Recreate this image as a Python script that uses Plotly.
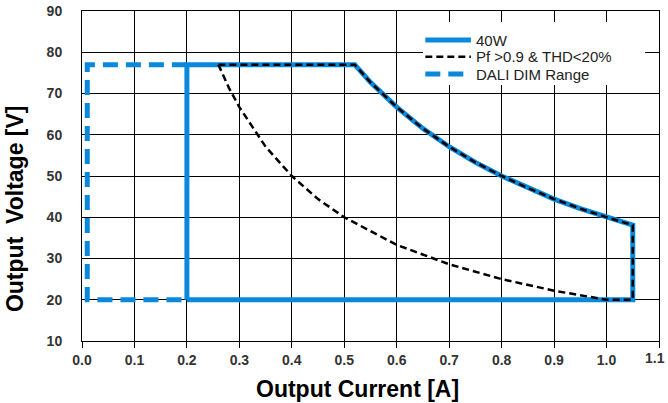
import plotly.graph_objects as go

# 40W operating area (closed outline)
w40_x = [0.20, 0.20, 0.52, 0.55, 0.60, 0.65, 0.70, 0.75, 0.80, 0.85, 0.90, 0.95, 1.00, 1.05, 1.05, 0.20]
w40_y = [20.0, 77.0, 77.0, 72.7, 66.7, 61.5, 57.1, 53.3, 50.0, 47.1, 44.4, 42.1, 40.0, 38.1, 20.0, 20.0]

# Pf > 0.9 & THD < 20% region (closed outline)
pf_x = [0.26, 0.52, 0.55, 0.60, 0.65, 0.70, 0.75, 0.80, 0.85, 0.90, 0.95, 1.00, 1.05, 1.05, 1.00,
        0.90, 0.80, 0.70, 0.60, 0.50, 0.45, 0.40, 0.35, 0.30, 0.28, 0.26]
pf_y = [77.0, 77.0, 72.7, 66.7, 61.5, 57.1, 53.3, 50.0, 47.1, 44.4, 42.1, 40.0, 38.1, 20.0, 20.0,
        22.2, 25.0, 28.6, 33.3, 40.0, 44.4, 50.0, 57.1, 66.7, 71.4, 77.0]

# DALI DIM range
dali_x = [0.20, 0.01, 0.01, 0.20]
dali_y = [77.0, 77.0, 20.0, 20.0]

series_names = ["40W", "Pf >0.9 & THD<20%", "DALI DIM Range"]

x_ticks = [0.0, 0.1, 0.2, 0.3, 0.4, 0.5, 0.6, 0.7, 0.8, 0.9, 1.0, 1.1]
x_tick_labels = ["0.0", "0.1", "0.2", "0.3", "0.4", "0.5", "0.6", "0.7", "0.8", "0.9", "1.0", "1.1"]
y_ticks = [10, 20, 30, 40, 50, 60, 70, 80, 90]

x_title = "Output Current [A]"
y_title = "Output\u00a0\u00a0Voltage [V]"

BLUE = "#0A88DB"
styles = [
    dict(color=BLUE, width=5),
    dict(color="black", width=2.5, dash="7px,4px"),
    dict(color=BLUE, width=5, dash="15px,8px"),
]

fig = go.Figure()
for xs, ys, nm, st in zip([w40_x, pf_x, dali_x], [w40_y, pf_y, dali_y], series_names, styles):
    fig.add_trace(go.Scatter(x=xs, y=ys, mode="lines", name=nm, line=st, showlegend=False))

# Manual legend (paper coordinates)
fig.add_shape(type="rect", xref="paper", yref="paper", x0=0.591, x1=0.976, y0=0.776, y1=0.967,
              fillcolor="white", line=dict(width=0), layer="above")
row_y = [0.912, 0.861, 0.809]
for nm, st, ry in zip(series_names, styles, row_y):
    fig.add_shape(type="line", xref="paper", yref="paper", x0=0.595, x1=0.674, y0=ry, y1=ry,
                  line=st, layer="above")
    fig.add_annotation(xref="paper", yref="paper", x=0.679, y=ry, text=nm, showarrow=False,
                       xanchor="left", yanchor="middle",
                       font=dict(family="Liberation Sans, Arial", size=15, color="#222222"))

title_font = dict(family="Liberation Sans, Arial", size=23, color="black", weight="bold")
fig.add_annotation(xref="paper", yref="paper", x=0.477, y=-0.145, text=x_title, showarrow=False,
                   xanchor="center", yanchor="middle", font=title_font)
fig.add_annotation(xref="paper", yref="paper", x=-0.116, y=0.40, text=y_title, showarrow=False,
                   xanchor="center", yanchor="middle", textangle=-90, font=title_font)

x_tick_font = dict(family="Liberation Sans, Arial", size=14, color="#333333", weight="bold")
y_tick_font = dict(family="Liberation Sans, Arial", size=14, color="#333333", weight="bold")

# last x tick label placed flush with the right edge so it is not clipped
shown_x_labels = x_tick_labels[:-1] + [""]
fig.add_annotation(x=x_ticks[-1], xref="x", yref="paper", y=-0.052, text=x_tick_labels[-1],
                   showarrow=False, xanchor="right", yanchor="middle", xshift=8,
                   font=x_tick_font)

fig.update_layout(
    width=668, height=403,
    margin=dict(l=82, r=9, t=11, b=62, autoexpand=False),
    paper_bgcolor="white", plot_bgcolor="white",
    showlegend=False,
    xaxis=dict(range=[0, 1.1], tickvals=x_ticks, ticktext=shown_x_labels,
               showgrid=True, gridcolor="black", gridwidth=1,
               showline=True, linecolor="black", linewidth=1, mirror=True,
               ticks="outside", ticklen=6, tickcolor="black",
               tickfont=x_tick_font, zeroline=False, automargin=False),
    yaxis=dict(range=[10, 90], tickvals=y_ticks,
               showgrid=True, gridcolor="black", gridwidth=1,
               showline=True, linecolor="black", linewidth=1, mirror=True,
               ticks="", ticklen=0, tickfont=y_tick_font, ticklabelstandoff=16,
               zeroline=False, automargin=False),
)

fig.write_html("out.html", config={"displayModeBar": False},
               post_script="document.body.style.margin='0';")
